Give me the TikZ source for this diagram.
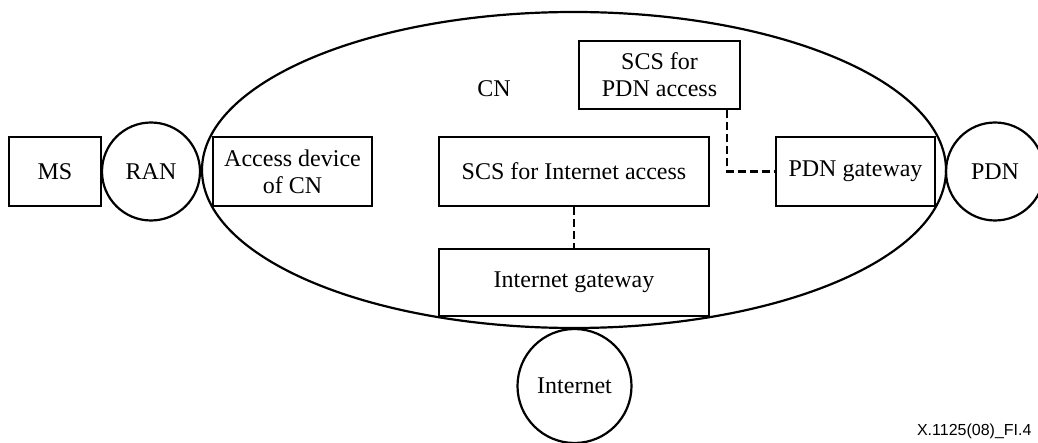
\documentclass[tikz,border=0pt]{standalone}
\usepackage{fontspec}
\setmainfont{Liberation Serif}
\newfontfamily\labelfont{Liberation Sans}
\begin{document}
\begin{tikzpicture}[x=1pt,y=-1pt,
  every node/.style={font=\fontsize{24}{27}\selectfont},
  box/.style={draw,line width=2.2pt,rectangle,inner sep=0pt,align=center},
  cloud/.style={draw,line width=2.2pt,circle,inner sep=0pt},
  link/.style={line width=2.2pt,dash pattern=on 8pt off 4pt}]
\useasboundingbox (0,0) rectangle (1038,443);
% core network boundary
\draw[line width=2.2pt] (574,170) ellipse [x radius=372, y radius=158];
\node at (494,89) {CN};
% boxes
\node[box,minimum width=92pt,minimum height=69pt] (ms) at (55,171.5) {MS};
\node[box,minimum width=159pt,minimum height=69pt] (acc) at (292.5,171.5) {Access device\\of CN};
\node[box,minimum width=270pt,minimum height=69pt] (scsi) at (574,171.5) {SCS for Internet access};
\node[box,minimum width=270pt,minimum height=67pt] (igw) at (574,282.5) {Internet gateway};
\node[box,minimum width=161pt,minimum height=68pt] (scsp) at (659.5,75) {SCS for\\PDN access};
\node[box,minimum width=159pt,minimum height=69pt] (pgw) at (855.5,171.5) {PDN gateway};
% external networks
\node[cloud,minimum size=98pt] (ran) at (151,171.5) {RAN};
\node[cloud,minimum size=98pt] (pdn) at (995,171.5) {PDN};
\node[cloud,minimum size=114pt] (inet) at (574.5,386) {Internet};
% dashed links
\draw[link] (scsi.south) -- (igw.north);
\coordinate (bend) at (727,171.5);
\draw[link] (scsp.south -| bend) -- (bend) -- (pgw.west);
% figure reference
\node[anchor=south east,font=\labelfont\fontsize{16}{18}\selectfont] at (1035,442) {X.1125(08)\_FI.4};
\end{tikzpicture}
\end{document}
